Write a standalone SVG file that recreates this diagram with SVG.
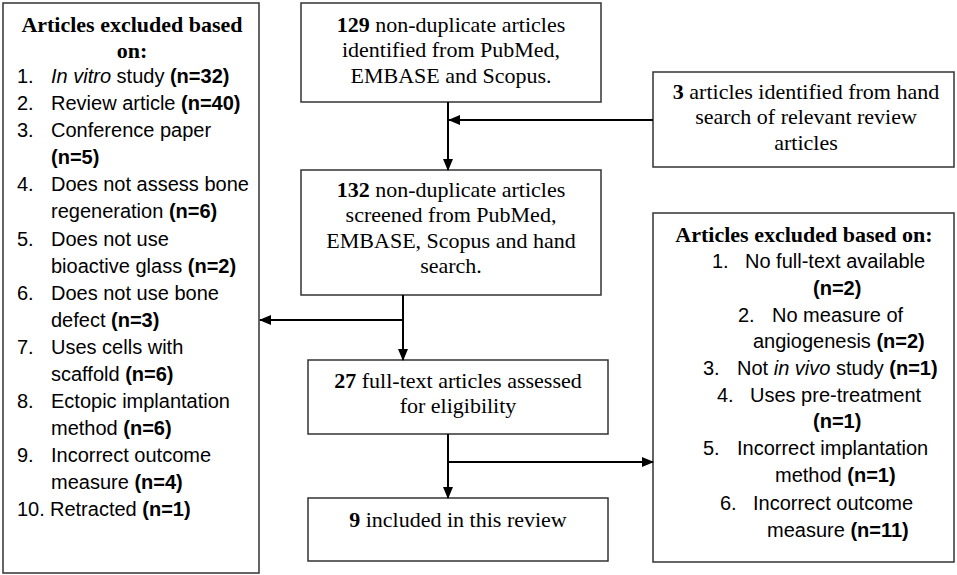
<svg xmlns="http://www.w3.org/2000/svg" width="957" height="575" viewBox="0 0 957 575">
<style>
.box{fill:#fff;stroke:#333;stroke-width:1.5}
.ser{font-family:"Liberation Serif","Times New Roman",serif;font-size:22px;fill:#000}
.san{font-family:"Liberation Sans",Arial,sans-serif;font-size:20px;fill:#000}
.b{font-weight:bold}
.i{font-style:italic}
.mid{text-anchor:middle}
.con{fill:none;stroke:#000;stroke-width:2}
</style>
<defs>
<marker id="ah" markerUnits="userSpaceOnUse" markerWidth="12" markerHeight="10" refX="11" refY="5" orient="auto">
<path d="M0,0 L12,5 L0,10 Z" fill="#000"/>
</marker>
</defs>
<rect width="957" height="575" fill="#fff"/>
<g id="excluded-left">
<rect class="box" x="3" y="3" width="256" height="570"/>
<text class="ser b mid" x="132" y="32">Articles excluded based</text>
<text class="ser b mid" x="132" y="58">on:</text>
<g class="san">
<text x="17" y="83">1.</text><text x="51" y="83"><tspan class="i">In vitro</tspan> study <tspan class="b">(n=32)</tspan></text>
<text x="17" y="110">2.</text><text x="51" y="110">Review article <tspan class="b">(n=40)</tspan></text>
<text x="17" y="137">3.</text><text x="51" y="137">Conference paper</text>
<text x="51" y="164" class="b">(n=5)</text>
<text x="17" y="191">4.</text><text x="51" y="191">Does not assess bone</text>
<text x="51" y="218">regeneration <tspan class="b">(n=6)</tspan></text>
<text x="17" y="246">5.</text><text x="51" y="246">Does not use</text>
<text x="51" y="273">bioactive glass <tspan class="b">(n=2)</tspan></text>
<text x="17" y="300">6.</text><text x="51" y="300">Does not use bone</text>
<text x="51" y="327">defect <tspan class="b">(n=3)</tspan></text>
<text x="17" y="354">7.</text><text x="51" y="354">Uses cells with</text>
<text x="51" y="381">scaffold <tspan class="b">(n=6)</tspan></text>
<text x="17" y="408">8.</text><text x="51" y="408">Ectopic implantation</text>
<text x="51" y="435">method <tspan class="b">(n=6)</tspan></text>
<text x="17" y="462">9.</text><text x="51" y="462">Incorrect outcome</text>
<text x="51" y="489">measure <tspan class="b">(n=4)</tspan></text>
<text x="17" y="516">10.</text><text x="50" y="516">Retracted <tspan class="b">(n=1)</tspan></text>
</g>
</g>
<g id="identified">
<rect class="box" x="301" y="3" width="300" height="99"/>
<text class="ser mid" x="451" y="32"><tspan class="b">129</tspan> non-duplicate articles</text>
<text class="ser mid" x="451" y="57">identified from PubMed,</text>
<text class="ser mid" x="451" y="83">EMBASE and Scopus.</text>
</g>
<g id="hand-search">
<rect class="box" x="653" y="72" width="301" height="95"/>
<text class="ser mid" x="806" y="99"><tspan class="b">3</tspan> articles identified from hand</text>
<text class="ser mid" x="806" y="124">search of relevant review</text>
<text class="ser mid" x="806" y="150">articles</text>
</g>
<g id="screened">
<rect class="box" x="301" y="170" width="300" height="125"/>
<text class="ser mid" x="451" y="197"><tspan class="b">132</tspan> non-duplicate articles</text>
<text class="ser mid" x="451" y="222">screened from PubMed,</text>
<text class="ser mid" x="451" y="248">EMBASE, Scopus and hand</text>
<text class="ser mid" x="451" y="273">search.</text>
</g>
<g id="full-text">
<rect class="box" x="308" y="360" width="300" height="74"/>
<text class="ser mid" x="458" y="388"><tspan class="b">27</tspan> full-text articles assessed</text>
<text class="ser mid" x="458" y="413">for eligibility</text>
</g>
<g id="included">
<rect class="box" x="308" y="498" width="300" height="63"/>
<text class="ser mid" x="458" y="527"><tspan class="b">9</tspan> included in this review</text>
</g>
<g id="excluded-right">
<rect class="box" x="653" y="213" width="301" height="349"/>
<text class="ser b mid" x="804" y="242">Articles excluded based on:</text>
<g class="san">
<text x="712" y="268">1.</text><text x="745" y="268">No full-text available</text>
<text x="813" y="295" class="b">(n=2)</text>
<text x="738" y="322">2.</text><text x="772" y="322">No measure of</text>
<text x="753" y="348">angiogenesis <tspan class="b">(n=2)</tspan></text>
<text x="703" y="375">3.</text><text x="737" y="375">Not <tspan class="i">in vivo</tspan> study <tspan class="b">(n=1)</tspan></text>
<text x="717" y="402">4.</text><text x="750" y="402">Uses pre-treatment</text>
<text x="813" y="428" class="b">(n=1)</text>
<text x="703" y="455">5.</text><text x="737" y="455">Incorrect implantation</text>
<text x="775" y="482">method <tspan class="b">(n=1)</tspan></text>
<text x="720" y="510">6.</text><text x="753" y="510">Incorrect outcome</text>
<text x="767" y="537">measure <tspan class="b">(n=11)</tspan></text>
</g>
</g>
<g id="connectors">
<line class="con" x1="448" y1="102" x2="448" y2="170" marker-end="url(#ah)"/>
<line class="con" x1="653" y1="120" x2="449" y2="120" marker-end="url(#ah)"/>
<line class="con" x1="403" y1="295" x2="403" y2="360" marker-end="url(#ah)"/>
<line class="con" x1="403" y1="320" x2="260" y2="320" marker-end="url(#ah)"/>
<line class="con" x1="448" y1="434" x2="448" y2="498" marker-end="url(#ah)"/>
<line class="con" x1="448" y1="462" x2="653" y2="462" marker-end="url(#ah)"/>
</g>
</svg>
